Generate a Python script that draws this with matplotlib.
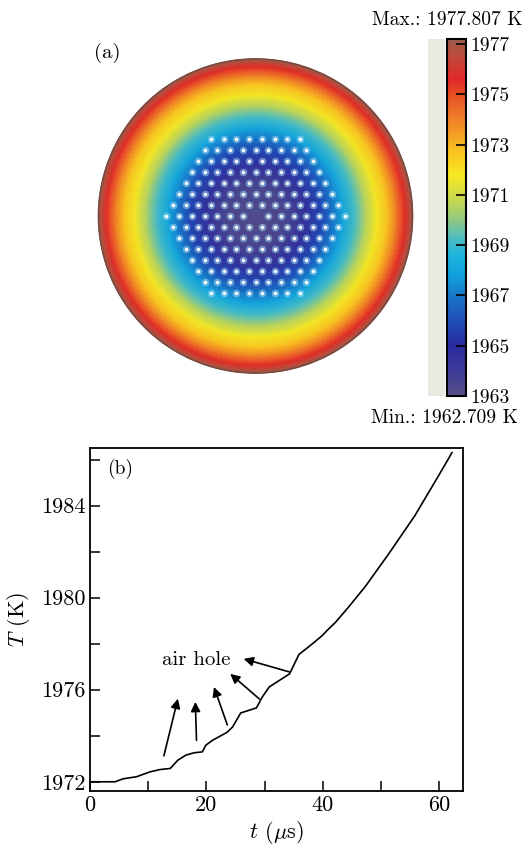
import numpy as np
import matplotlib
matplotlib.use("Agg")
import matplotlib.pyplot as plt
from matplotlib.colors import LinearSegmentedColormap, Normalize
from matplotlib.cm import ScalarMappable
from matplotlib.patches import Rectangle

plt.rcParams["font.family"] = ["cmr10", "DejaVu Serif"]
plt.rcParams["mathtext.fontset"] = "cm"
plt.rcParams["axes.formatter.use_mathtext"] = True

# ---- panel (a): radial temperature profile ----
r_prof = [0.0, 0.20, 0.32, 0.42, 0.50, 0.56, 0.63, 0.70, 0.77, 0.84, 0.90, 0.95, 0.98, 1.0]
T_prof = [1963.0, 1963.5, 1964.5, 1965.8, 1967.1, 1968.1, 1969.2, 1970.5,
          1971.7, 1972.8, 1974.2, 1975.5, 1976.5, 1977.2]
n_rings = 7          # rings of air holes
pitch = 0.081        # hole pitch, in units of fibre radius
cbar_ticks = [1963, 1965, 1967, 1969, 1971, 1973, 1975, 1977]
T_min_label = "Min.: 1962.709 K"
T_max_label = "Max.: 1977.807 K"

# colormap stops (temperature, colour)
cmap_T = [1963.0, 1964.0, 1965.0, 1966.0, 1967.0, 1967.8, 1968.6, 1969.3, 1970.0,
          1970.8, 1971.8, 1972.8, 1974.0, 1975.0, 1975.6, 1976.5, 1977.2]
cmap_c = ["#55508a", "#3c3a98", "#2a2aa0", "#2050b8", "#1878c8", "#10a0dc", "#1cb4dc",
          "#50bcc0", "#90c880", "#c8d850", "#f8e820", "#f8c020", "#f08028", "#e85024",
          "#e02828", "#c04838", "#9a5a4c"]

# ---- panel (b): temperature vs time ----
t_us = [0, 4.3, 5.7, 8.0, 10.3, 12.0, 13.8, 15.1, 16.5, 17.9, 19.3, 19.9, 21.1, 23.5,
        24.5, 25.9, 28.6, 29.6, 30.8, 34.3, 35.9, 38.2, 39.9, 41.0, 42.2, 44.4, 47.3,
        51.3, 55.8, 59.7, 61.2, 62.2]
T_K = [1972.0, 1972.0, 1972.13, 1972.22, 1972.43, 1972.53, 1972.58, 1972.94, 1973.16,
       1973.26, 1973.30, 1973.59, 1973.81, 1974.14, 1974.38, 1974.99, 1975.21, 1975.68,
       1976.12, 1976.69, 1977.53, 1977.99, 1978.35, 1978.64, 1978.93, 1979.58, 1980.48,
       1981.89, 1983.55, 1985.21, 1985.86, 1986.30]
arrow_tail = [(12.7, 1973.13), (18.3, 1973.80), (23.6, 1974.47), (29.1, 1975.60), (34.3, 1976.77)]
arrow_head = [(15.1, 1975.61), (18.1, 1975.47), (21.3, 1976.12), (24.1, 1976.69), (26.4, 1977.34)]

W, H = 526, 848
fig = plt.figure(figsize=(W / 100, H / 100), dpi=100)

def px_rect(x0, y0, x1, y1):
    return [x0 / W, 1 - y1 / H, (x1 - x0) / W, (y1 - y0) / H]

vmin, vmax = cmap_T[0], cmap_T[-1]
pos = [(v - vmin) / (vmax - vmin) for v in cmap_T]
cmap = LinearSegmentedColormap.from_list("comsol", list(zip(pos, cmap_c)))
norm = Normalize(vmin, vmax)

# map axes; limits chosen so one unit = 157 px, centre at (255.5, 216)
ax_a = fig.add_axes(px_rect(97, 39, 428, 396))
R_px, cx, cy = 157.0, 255.5, 216.0
ax_a.set_xlim((97 - cx) / R_px, (428 - cx) / R_px)
ax_a.set_ylim(-(396 - cy) / R_px, (cy - 39) / R_px)
ax_a.axis("off")

theta = np.linspace(0, 2 * np.pi, 181)
rr, tt = np.meshgrid(np.array(r_prof), theta)
C = np.tile(np.array(T_prof), (len(theta), 1))
ax_a.pcolormesh(rr * np.cos(tt), rr * np.sin(tt), C, shading="gouraud",
                cmap=cmap, norm=norm, rasterized=True)
circ = plt.Circle((0, 0), 1.0, fill=False, ec="#7a4a40", lw=1.2)
ax_a.add_patch(circ)

# hexagonal air holes, solid core
hx, hy = [], []
for i in range(-n_rings, n_rings + 1):
    for j in range(-n_rings, n_rings + 1):
        if max(abs(i), abs(j), abs(i + j)) > n_rings or (i == 0 and j == 0):
            continue
        hx.append(pitch * (i + j / 2))
        hy.append(pitch * j * np.sqrt(3) / 2)
ax_a.scatter(hx, hy, s=30, color="#a8e0f8", alpha=0.5, lw=0)
ax_a.scatter(hx, hy, s=6, color="white", lw=0)

# grey strip and colorbar
fig.add_artist(Rectangle((428 / W, 1 - 396 / H), 17 / W, 357 / H,
                         transform=fig.transFigure, fc="#e8e9e1", ec="none"))
cax = fig.add_axes(px_rect(447, 39, 466, 396))
cb = fig.colorbar(ScalarMappable(norm=norm, cmap=cmap), cax=cax, ticks=cbar_ticks)
cb.outline.set_linewidth(1.5)
cb.ax.tick_params(direction="in", length=7, width=1.2, labelsize=14, pad=3)
cb.ax.set_yticklabels([str(v) for v in cbar_ticks])

fig.text(107 / W, 1 - 53 / H, "(a)", ha="center", va="center", fontsize=15)
fig.text(522 / W, 1 - 20 / H, T_max_label, ha="right", va="center", fontsize=14)
fig.text(518 / W, 1 - 418 / H, T_min_label, ha="right", va="center", fontsize=14)

# ---- panel (b) ----
ax = fig.add_axes(px_rect(90, 448, 463, 791))
ax.plot(t_us, T_K, color="black", lw=1.2)
for tail, head in zip(arrow_tail, arrow_head):
    ax.annotate("", xy=head, xytext=tail,
                arrowprops=dict(arrowstyle="-|>", color="black", lw=1.2,
                                mutation_scale=14, shrinkA=0, shrinkB=0))
ax.text(18.2, 1977.28, "air hole", ha="center", va="center", fontsize=15)
ax.text(0.08, 0.94, "(b)", transform=ax.transAxes, ha="center", va="center", fontsize=14)

ax.set_xlim(0, 64.1)
ax.set_ylim(1971.6, 1986.5)
ax.set_xticks([0, 20, 40, 60])
ax.set_xticks([10, 30, 50], minor=True)
ax.set_yticks([1972, 1976, 1980, 1984])
ax.set_yticks([1974, 1978, 1982, 1986], minor=True)
ax.set_xticklabels(["0", "20", "40", "60"])
ax.set_yticklabels(["1972", "1976", "1980", "1984"])
ax.tick_params(which="both", direction="in", length=7, width=1.1, labelsize=16,
               top=False, right=False)
for sp in ax.spines.values():
    sp.set_linewidth(1.3)

ax.set_xlabel(r"$t$ ($\mu$s)", fontsize=16)
ax.set_ylabel(r"$T$ (K)", fontsize=16)
ax.xaxis.label.set_va("center")
ax.yaxis.label.set_va("center")
ax.xaxis.set_label_coords(0.5, (791 - 833) / 343)
ax.yaxis.set_label_coords((18 - 90) / 373, 0.5)

fig.savefig("out.png", dpi=100)
